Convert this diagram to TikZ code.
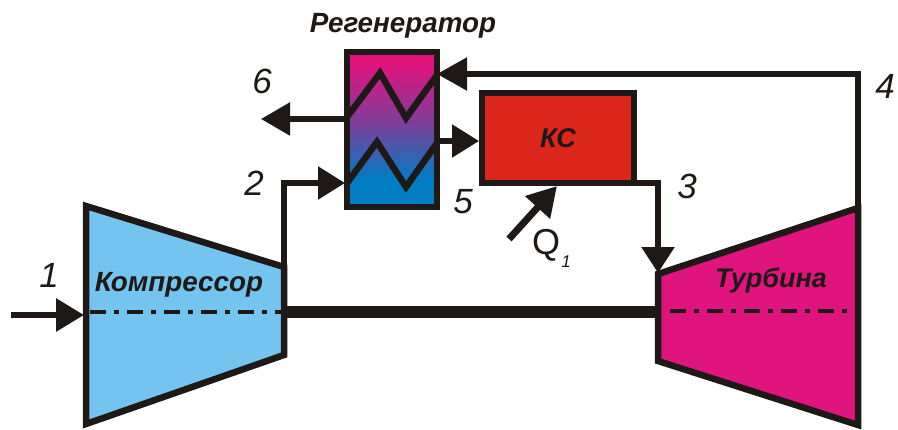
\documentclass[tikz,border=0pt]{standalone}
\usepackage{fontspec}
\setmainfont{Liberation Sans}
\usetikzlibrary{arrows.meta}
\definecolor{ink}{RGB}{30,25,22}
\definecolor{compfill}{RGB}{116,196,240}
\definecolor{turbfill}{RGB}{224,20,125}
\definecolor{ksfill}{RGB}{219,38,27}
\definecolor{regtop}{RGB}{224,20,125}
\definecolor{regmid}{RGB}{125,62,155}
\definecolor{regbot}{RGB}{0,125,195}
\pgfdeclareverticalshading{regshade}{100bp}{color(0bp)=(regbot); color(34bp)=(regbot); color(52bp)=(regmid); color(71bp)=(regtop); color(100bp)=(regtop)}
\tikzset{
  x=1pt,y=-1pt,
  machine/.style={draw=ink,line width=6.5pt,miter limit=10,line join=miter},
  flow/.style={draw=ink,line width=5.5pt,line join=miter},
  axisline/.style={draw=ink,line width=3.6pt,dash pattern=on 16pt off 8pt on 5pt off 8pt},
  title/.style={font=\fontsize{27.8}{28}\selectfont\bfseries\itshape,text=ink,inner sep=0pt,anchor=base},
  num/.style={font=\fontsize{35}{35}\selectfont\itshape,text=ink,inner sep=0pt,anchor=base},
  bigtip/.style={-{Triangle[length=#1,width=32pt]}},
}
\begin{document}
\begin{tikzpicture}
\useasboundingbox (0,0) rectangle (898,429);
% anchor points
\coordinate (c1) at (86,206); \coordinate (c2) at (284,267);
\coordinate (c3) at (284,355); \coordinate (c4) at (86,424);
\coordinate (t1) at (658,274); \coordinate (t2) at (858,208);
\coordinate (t3) at (858,425); \coordinate (t4) at (658,361);
\coordinate (inL) at (11,315); \coordinate (inR) at (84,315);
\coordinate (shaftL) at (284,312); \coordinate (shaftR) at (658,312);
\coordinate (axL1) at (90,312); \coordinate (axR1) at (282,312);
\coordinate (axL2) at (670,311); \coordinate (axR2) at (850,311);
% machines
\fill[compfill] (c1)--(c2)--(c3)--(c4)--cycle;
\fill[turbfill] (t1)--(t2)--(t3)--(t4)--cycle;
\draw[axisline] (axL1)--(axR1);
\draw[axisline] (axL2)--(axR2);
\draw[machine] (c1)--(c2)--(c3)--(c4)--cycle;
\draw[machine] (t1)--(t2)--(t3)--(t4)--cycle;
\draw[draw=ink,line width=12.5pt] (shaftL)--(shaftR);
% regenerator
\node[machine,rectangle,minimum width=90pt,minimum height=155pt,outer sep=0pt,inner sep=0pt,
      shade,shading=regshade] (reg) at (392,129.5) {};
% combustion chamber
\node[machine,fill=ksfill,rectangle,minimum width=152pt,minimum height=90pt,outer sep=0pt,inner sep=0pt,
      font=\fontsize{27}{27}\selectfont\bfseries\itshape,text=ink] (ks) at (558,138) {КС};
% coils
\coordinate (z1a) at (347,117); \coordinate (z1b) at (380,73); \coordinate (z1c) at (406,118); \coordinate (z1d) at (437,75);
\coordinate (z2a) at (347,183); \coordinate (z2b) at (377,142); \coordinate (z2c) at (406,187); \coordinate (z2d) at (437,143);
\draw[machine] (z1a)--(z1b)--(z1c)--(z1d);
\draw[machine] (z2a)--(z2b)--(z2c)--(z2d);
% connectors
\coordinate (out6) at (261,119); \coordinate (reg6) at (347,119);
\draw[flow,bigtip=29pt] (reg6)--(out6);
\coordinate (t4out) at (858,74); \coordinate (reg4) at (437,74);
\draw[flow,bigtip=30pt] (t2)--(t4out)--(reg4);
\coordinate (reg5) at (437,141); \coordinate (ks5) at (479,141);
\draw[flow,bigtip=27pt] (reg5)--(ks5);
\coordinate (b2) at (284,183); \coordinate (reg2) at (345,183);
\draw[flow,bigtip=27pt] (c2)--(b2)--(reg2);
\coordinate (ks3) at (634,183); \coordinate (b3) at (658,183); \coordinate (tin) at (658,273);
\draw[flow,bigtip=26pt] (ks3)--(b3)--(tin);
\draw[draw=ink,line width=6pt,bigtip=28pt] (inL)--(inR);
\coordinate (qa) at (509,239); \coordinate (qb) at (557,186);
\draw[draw=ink,line width=7pt,bigtip=29pt] (qa)--(qb);
% labels
\node[title] (lreg) at (403,32) {Регенератор};
\node[title] (lcomp) at (179,291) {Компрессор};
\node[title,font=\fontsize{27}{27}\selectfont\bfseries\itshape] (lturb) at (771,287) {Турбина};
\node[num] (n1) at (49,287) {1};
\node[num] (n2) at (254,195) {2};
\node[num] (n3) at (687,198) {3};
\node[num] (n4) at (885,98) {4};
\node[num] (n5) at (463,213) {5};
\node[num] (n6) at (262,93) {6};
\node[num,font=\fontsize{36}{36}\selectfont] (nq) at (546,254) {Q};
\node[font=\fontsize{17}{17}\selectfont\itshape,text=ink,inner sep=0pt,anchor=base] (nq1) at (566,267) {1};
\end{tikzpicture}
\end{document}
